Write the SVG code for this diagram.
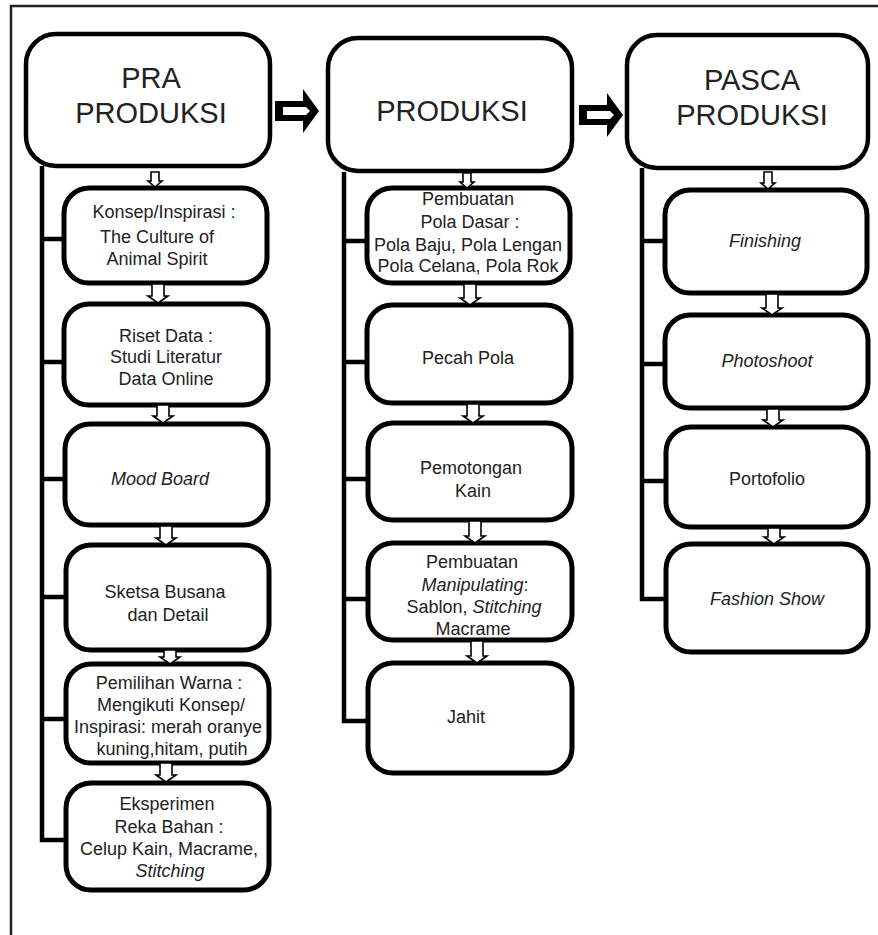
<svg xmlns="http://www.w3.org/2000/svg" width="878" height="935" viewBox="0 0 878 935">
<defs>
<style>
.frame{fill:none;stroke:#222;stroke-width:2.5}
.main{fill:#fff;stroke:#000;stroke-width:4.5}
.sub{fill:#fff;stroke:#000;stroke-width:5}
.line{fill:none;stroke:#000;stroke-width:4.5;stroke-linejoin:miter}
.sa{fill:#fff;stroke:#000;stroke-width:1.6;stroke-linejoin:miter}
.h{font-family:"Liberation Sans",Arial,sans-serif;font-size:29px;fill:#222;text-anchor:middle}
.t{font-family:"Liberation Sans",Arial,sans-serif;font-size:18px;fill:#222;text-anchor:middle}
.i{font-style:italic}
</style>
<g id="bigArrow">
<path d="M0,-10 H28 V-22 L44,0 L28,22 V10 H0 Z" fill="#000"/>
<path d="M8,-4 H31 L35,0 L31,4 H8 Z" fill="#fff"/>
</g>
</defs>
<rect width="878" height="935" fill="#fff"/>
<rect class="frame" x="11" y="6" width="900" height="960"/>

<g id="connectors">
<path class="line" d="M42,166 V840 H66 M42,239 H64 M42,362 H64 M42,479 H65 M42,597 H66 M42,719 H66"/>
<path class="line" d="M344,172 V721 H368 M344,241 H367 M344,362 H367 M344,479 H368 M344,599 H368"/>
<path class="line" d="M642,168 V599 H665 M642,241 H665 M642,364 H665 M642,481 H665"/>
<use href="#bigArrow" transform="translate(275,111)"/>
<use href="#bigArrow" transform="translate(579,115)"/>
</g>

<g id="pra"><rect class="main" x="26" y="34" width="244" height="132" rx="30"/><text class="h" x="151" y="88">PRA</text><text class="h" x="151" y="123">PRODUKSI</text></g>
<g id="produksi"><rect class="main" x="328" y="38" width="244" height="133" rx="30"/><text class="h" x="452" y="121">PRODUKSI</text></g>
<g id="pasca"><rect class="main" x="627" y="35" width="241" height="133" rx="30"/><text class="h" x="752" y="90">PASCA</text><text class="h" x="752" y="125">PRODUKSI</text></g>

<g id="konsep"><rect class="sub" x="64" y="188" width="203" height="95" rx="25"/><text class="t" x="164" y="218">Konsep/Inspirasi :</text><text class="t" x="157" y="243">The Culture of</text><text class="t" x="157" y="265">Animal Spirit</text></g>
<g id="riset"><rect class="sub" x="64" y="304" width="204" height="101" rx="25"/><text class="t" x="166" y="342">Riset Data :</text><text class="t" x="166" y="363">Studi Literatur</text><text class="t" x="166" y="385">Data Online</text></g>
<g id="mood"><rect class="sub" x="65" y="424" width="203" height="101" rx="25"/><text class="t i" x="160" y="485">Mood Board</text></g>
<g id="sketsa"><rect class="sub" x="66" y="545" width="203" height="105" rx="25"/><text class="t" x="165" y="598">Sketsa Busana</text><text class="t" x="168" y="621">dan Detail</text></g>
<g id="warna"><rect class="sub" x="66" y="664" width="203" height="99" rx="25"/><text class="t" x="169" y="689">Pemilihan Warna :</text><text class="t" x="171" y="711">Mengikuti Konsep/</text><text class="t" x="168" y="733">Inspirasi: merah oranye</text><text class="t" x="172" y="755">kuning,hitam, putih</text></g>
<g id="eksperimen"><rect class="sub" x="66" y="783" width="203" height="107" rx="25"/><text class="t" x="167" y="810">Eksperimen</text><text class="t" x="169" y="833">Reka Bahan :</text><text class="t" x="169" y="855">Celup Kain, Macrame,</text><text class="t i" x="170" y="877">Stitching</text></g>

<g id="polaDasar"><rect class="sub" x="367" y="188" width="203" height="95" rx="25"/><text class="t" x="468" y="205">Pembuatan</text><text class="t" x="470" y="228">Pola Dasar :</text><text class="t" x="468" y="251">Pola Baju, Pola Lengan</text><text class="t" x="468" y="272">Pola Celana, Pola Rok</text></g>
<g id="pecah"><rect class="sub" x="367" y="305" width="204" height="98" rx="25"/><text class="t" x="468" y="364">Pecah Pola</text></g>
<g id="potong"><rect class="sub" x="368" y="423" width="204" height="97" rx="25"/><text class="t" x="471" y="474">Pemotongan</text><text class="t" x="473" y="497">Kain</text></g>
<g id="manipulating"><rect class="sub" x="368" y="543" width="204" height="97" rx="25"/><text class="t" x="472" y="568">Pembuatan</text><text class="t" x="475" y="591"><tspan class="i">Manipulating</tspan>:</text><text class="t" x="474" y="613">Sablon, <tspan class="i">Stitching</tspan></text><text class="t" x="473" y="635">Macrame</text></g>
<g id="jahit"><rect class="sub" x="368" y="663" width="204" height="110" rx="25"/><text class="t" x="466" y="723">Jahit</text></g>

<g id="finishing"><rect class="sub" x="665" y="190" width="202" height="103" rx="25"/><text class="t i" x="765" y="247">Finishing</text></g>
<g id="photoshoot"><rect class="sub" x="665" y="315" width="203" height="93" rx="25"/><text class="t i" x="767" y="367">Photoshoot</text></g>
<g id="portofolio"><rect class="sub" x="666" y="427" width="202" height="100" rx="25"/><text class="t" x="767" y="485">Portofolio</text></g>
<g id="fashion"><rect class="sub" x="666" y="544" width="202" height="108" rx="25"/><text class="t i" x="767" y="605">Fashion Show</text></g>

<g id="smallArrows">
<path class="sa" d="M151,172 H159 V181 H162 L155,187 L148,181 H151 Z"/>
<path class="sa" d="M463,173 H471 V182 H474 L467,188 L460,182 H463 Z"/>
<path class="sa" d="M764,172 H772 V183 H775 L768,189 L761,183 H764 Z"/>
<path class="sa" d="M152,284 H164 V296 H168 L158,303 L148,296 H152 Z"/>
<path class="sa" d="M157,405 H169 V416 H173 L163,423 L153,416 H157 Z"/>
<path class="sa" d="M160,526 H172 V538 H176 L166,545 L156,538 H160 Z"/>
<path class="sa" d="M164,650 H176 V657 H180 L170,664 L160,657 H164 Z"/>
<path class="sa" d="M160,763 H172 V775 H176 L166,782 L156,775 H160 Z"/>
<path class="sa" d="M464,284 H476 V298 H480 L470,305 L460,298 H464 Z"/>
<path class="sa" d="M467,404 H479 V416 H483 L473,423 L463,416 H467 Z"/>
<path class="sa" d="M469,521 H481 V536 H485 L475,543 L465,536 H469 Z"/>
<path class="sa" d="M471,641 H483 V656 H487 L477,663 L467,656 H471 Z"/>
<path class="sa" d="M766,294 H778 V308 H782 L772,315 L762,308 H766 Z"/>
<path class="sa" d="M767,409 H779 V420 H783 L773,427 L763,420 H767 Z"/>
<path class="sa" d="M768,528 H780 V537 H784 L774,544 L764,537 H768 Z"/>
</g>
</svg>
